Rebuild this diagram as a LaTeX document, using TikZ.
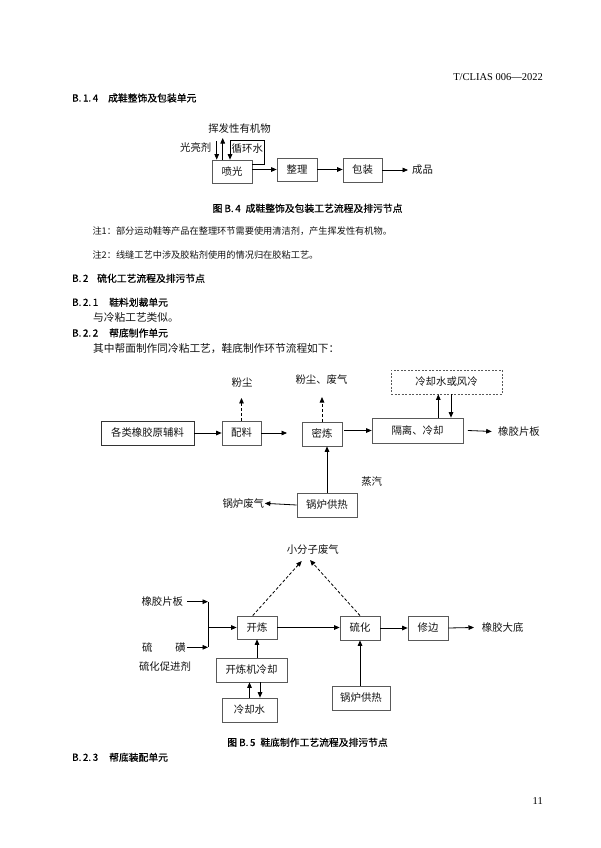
\documentclass[tikz,border=0pt]{standalone}
\usepackage{fontspec}
\setmainfont{Noto Sans CJK SC}
\newfontfamily\latinserif{Liberation Serif}
\newfontfamily\headfont[FakeBold=0.7]{Noto Sans CJK SC}
\usetikzlibrary{arrows.meta}
\tikzset{
  box/.style={draw=black!65, line width=0.75pt, inner sep=0pt, minimum height=24pt, font=\fontsize{10.4}{12}\selectfont, text=black!92},
  dbox/.style={box, dashed, dash pattern=on 2pt off 1.5pt},
  lbl/.style={inner sep=0pt, font=\fontsize{10.4}{12}\selectfont, text=black!92},
  arr/.style={line width=0.8pt, -{Triangle[length=5.5pt,width=4.6pt]}},
  darr/.style={arr, dash pattern=on 3pt off 2pt},
  ln/.style={line width=0.8pt},
  head/.style={anchor=west, inner sep=0pt, font=\headfont\fontsize{9.8}{12}\selectfont},
  body/.style={anchor=west, inner sep=0pt, font=\fontsize{10.7}{13}\selectfont, text=black!92},
  note/.style={anchor=west, inner sep=0pt, font=\fontsize{9.2}{11}\selectfont, text=black!92},
  capt/.style={inner sep=0pt, font=\headfont\fontsize{9.8}{12}\selectfont}
}
\begin{document}
\begin{tikzpicture}[x=1pt,y=-1pt]
\fill[white] (0,0) rectangle (600,848);
\useasboundingbox (0,0) rectangle (600,848);

% header and page number
\node[anchor=east, inner sep=0pt, font=\latinserif\fontsize{10.5}{12}\selectfont] (hdr) at (543,77) {T/CLIAS 006—2022};
\node[anchor=east, inner sep=0pt, font=\latinserif\fontsize{10.5}{12}\selectfont] (pn) at (543,801) {11};

% headings and text
\node[head] (h1n) at (72,98) {B.\,1.\,4};
\node[head] (h1t) at (108,98) {成鞋整饰及包装单元};

% ---- Figure B.4 ----
\node[box, minimum width=40pt, minimum height=23pt] (pg) at (232,171.5) {喷光};
\node[box, minimum width=40pt, minimum height=23pt] (zl) at (297,169.5) {整理};
\node[box, minimum width=39pt] (bz) at (362.5,170) {包装};
\node[lbl, anchor=west] (cp) at (412,170) {成品};
\node[lbl] (hf) at (239.5,129) {挥发性有机物};
\node[lbl, anchor=east] (gld) at (211.5,148) {光亮剂};
\node[lbl, anchor=west] (xhs) at (231.5,148.3) {循环水};
\coordinate (l1) at (264,140);
\coordinate (gl) at (216.7,141);

\draw[arr] (pg.east |- zl.west) -- (zl.west);
\draw[arr] (zl.east) -- (zl.east -| bz.west);
\draw[arr] (bz.east) -- (cp.west) [shorten >=4pt];
\draw[arr] ([yshift=7.5pt]pg.east) -| (l1) -| ([xshift=-2pt]pg.north);
\draw[arr] (gl) -- (gl |- pg.north);
\draw[arr] ([xshift=-9.3pt]pg.north) -- ([xshift=-9.3pt]pg.north |- hf.south) [shorten >=4pt];

\node[capt] (c4) at (307.5,208.3) {图 B.\,4\enspace 成鞋整饰及包装工艺流程及排污节点};

\node[note] (n1) at (92.3,231) {注1：部分运动鞋等产品在整理环节需要使用清洁剂，产生挥发性有机物。};
\node[note] (n2) at (92.3,255) {注2：线缝工艺中涉及胶粘剂使用的情况归在胶粘工艺。};

\node[head] (h2n) at (72,278.3) {B.\,2};
\node[head] (h2t) at (97,278.3) {硫化工艺流程及排污节点};
\node[head] (h3n) at (72,302.3) {B.\,2.\,1};
\node[head] (h3t) at (109,302.3) {鞋料划裁单元};
\node[body] (t1) at (93,317.5) {与冷粘工艺类似。};
\node[head] (h4n) at (72,333) {B.\,2.\,2};
\node[head] (h4t) at (109,333) {帮底制作单元};
\node[body] (t2) at (93,348.5) {其中帮面制作同冷粘工艺，鞋底制作环节流程如下：};

% ---- Figure B.5 upper ----
\node[box, minimum width=93pt, draw=black!80, line width=0.9pt] (yl) at (147.5,433) {各类橡胶原辅料};
\node[box, minimum width=39pt] (pl) at (241.5,433) {配料};
\node[box, minimum width=40pt] (ml) at (322,434) {密炼};
\node[box, minimum width=91pt, minimum height=25pt] (gl2) at (417.5,430.5) {隔离、冷却};
\node[dbox, minimum width=111pt] (lsf) at (446.5,382) {冷却水或风冷};
\node[box, minimum width=60pt] (gr1) at (327,505) {锅炉供热};
\node[lbl] (fz) at (242,383) {粉尘};
\node[lbl] (fc) at (321.5,380) {粉尘、废气};
\node[lbl, anchor=west] (xp) at (498,431.7) {橡胶片板};
\node[lbl] (zq) at (371.7,481.7) {蒸汽};
\node[lbl, anchor=east] (gf) at (264.3,503.3) {锅炉废气};
\coordinate (m0) at (287,433);

\draw[arr] (yl) -- (pl);
\draw[arr] (pl.east) -- (m0);
\draw[arr] ([xshift=2pt]ml.east |- gl2.west) -- (gl2.west);
\draw[arr] ([xshift=4.5pt]gl2.east) -- (xp.west) [shorten >=6.3pt];
\draw[arr] ([xshift=20.8pt]gl2.north) -- ([xshift=20.8pt]gl2.north |- lsf.south);
\draw[arr] ([xshift=33.5pt]gl2.north |- lsf.south) -- ([xshift=33.5pt]gl2.north);
\draw[darr] (pl.north) -- (pl.north |- fz.south) [shorten >=10pt];
\draw[darr] (ml.north) -- (ml.north |- fc.south) [shorten >=12pt];
\draw[arr] (gr1.north) -- (gr1.north |- ml.south);
\draw[arr] (gr1.west) -- (gf.east) [shorten >=0.5pt];

% ---- Figure B.5 lower ----
\node[box, minimum width=40pt, minimum height=23pt] (kl) at (257,627.5) {开炼};
\node[box, minimum width=40pt] (lh) at (360,628) {硫化};
\node[box, minimum width=40pt] (xb) at (428,628) {修边};
\node[lbl, anchor=west] (dd) at (481.7,627.3) {橡胶大底};
\node[box, minimum width=71pt] (kj) at (251.5,670) {开炼机冷却};
\node[box, minimum width=55pt] (ls2) at (249.5,710) {冷却水};
\node[box, minimum width=58pt] (gr2) at (361,698) {锅炉供热};
\node[lbl] (xf) at (312.8,550) {小分子废气};
\node[lbl, anchor=east] (xp2) at (183.3,601.7) {橡胶片板};
\node[lbl, anchor=east] (lhm) at (186,647.3) {硫\hspace{23pt}磺};
\node[lbl] (cjj) at (165,666.7) {硫化促进剂};
\coordinate (b1) at (208,602);
\coordinate (b2) at (208,647.3);
\coordinate (x1) at (301.7,561);
\coordinate (x2) at (310,560);

\draw[arr] ([xshift=4pt]xp2.east) -- (xp2.east -| b1);
\draw[arr] ([xshift=1.3pt]lhm.east) -- (lhm.east -| b2);
\draw[ln] (b1) -- (b2);
\draw[arr] (b1 |- kl.west) -- (kl.west);
\draw[darr] ([xshift=-4.3pt]kl.north) -- (x1);
\draw[darr] (lh.north) -- (x2);
\draw[arr] (kl.east) -- (kl.east -| lh.west);
\draw[arr] (lh) -- (xb);
\draw[arr] (xb.east) -- (dd.west) [shorten >=7.7pt];
\draw[arr] (kl.south |- kj.north) -- (kl.south);
\draw[arr] (ls2.north) -- (ls2.north |- kj.south);
\draw[arr] ([xshift=10.5pt]ls2.north |- kj.south) -- ([xshift=10.5pt]ls2.north);
\draw[arr] (lh.south |- gr2.north) -- (lh.south);

\node[capt] (c5) at (307.5,742.3) {图 B.\,5\enspace 鞋底制作工艺流程及排污节点};
\node[head] (h5n) at (72,757.3) {B.\,2.\,3};
\node[head] (h5t) at (109,757.3) {帮底装配单元};
\end{tikzpicture}
\end{document}
